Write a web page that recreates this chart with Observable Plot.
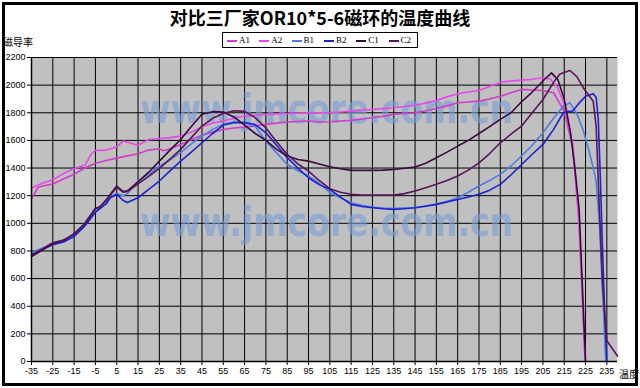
<!DOCTYPE html>
<html><head><meta charset="utf-8">
<script src="https://cdn.jsdelivr.net/npm/d3@7"></script>
<script src="https://cdn.jsdelivr.net/npm/@observablehq/plot@0.6"></script>
<style>
body{margin:0;background:#fff;}
#wrap{position:relative;width:640px;height:388px;overflow:hidden;background:#fff;}
#chart{position:absolute;left:0;top:0;}
#border{position:absolute;left:2px;top:2px;width:630px;height:378px;border:3px solid #000;pointer-events:none;}
#title{position:absolute;left:0;width:640px;top:7px;text-align:center;font-weight:bold;font-size:18px;font-family:"Noto Sans CJK SC","Liberation Sans",sans-serif;line-height:20px;}
#ylab{position:absolute;left:3px;top:36px;font-size:10px;font-family:"Noto Sans CJK SC",sans-serif;line-height:12px;}
#xlab{position:absolute;left:619px;top:368px;font-size:10px;font-family:"Noto Sans CJK SC",sans-serif;line-height:12px;}
#legend{position:absolute;left:222px;top:32px;width:194px;height:14px;border:1px solid #000;background:#fff;}
.li{position:absolute;top:0;height:14px;font-family:"Liberation Serif",serif;font-size:9px;line-height:14px;}
.li i{position:absolute;left:0;top:7px;width:10px;height:2px;}
.li span{position:absolute;left:12px;top:0;}
</style></head>
<body>
<div id="wrap">
  <div id="chart"></div>
  <div id="title">对比三厂家OR10*5-6磁环的温度曲线</div>
  <div id="ylab">磁导率</div>
  <div id="xlab">温度</div>
  <div id="legend"></div>
  <div id="border"></div>
</div>
<script>
const seriesNames = ["A1","A2","B1","B2","C1","C2"];
const seriesColors = ["#d03ccc","#e848e8","#4c7ee0","#1c22d0","#3c0840","#5a1458"];
const xTicks = [-35,-25,-15,-5,5,15,25,35,45,55,65,75,85,95,105,115,125,135,145,155,165,175,185,195,205,215,225,235];
const yTicks = [0,200,400,600,800,1000,1200,1400,1600,1800,2000,2200];
const watermarkText = "www.jmcore.com.cn";

const a1T = [-35,-32,-30,-25,-20,-15,-10,-5,0,5,10,15,20,25,27,30,35,40,45,50,55,60,65,70,75,80,85,90,95,100,105,110,115,120,125,130,135,140,145,150,155,160,165,170,175,180,185,190,195,200,205,210,215,219,222,224.8];
const a1V = [1175,1260,1270,1285,1320,1355,1400,1435,1455,1472,1488,1504,1530,1540,1525,1540,1571,1605,1638,1660,1679,1690,1696,1705,1716,1725,1733,1737,1740,1733,1735,1740,1745,1755,1764,1775,1788,1795,1800,1815,1831,1850,1872,1878,1884,1900,1920,1945,1969,1965,1961,1945,1812,1547,1000,0];

const a2T = [-35,-30,-25,-20,-15,-10,-7,-5,0,5,8,10,15,20,25,30,35,40,45,50,55,60,65,70,75,80,85,90,95,100,105,110,115,120,125,130,135,140,145,150,155,160,165,170,175,180,185,190,195,200,205,208.5,212,215,219,221.6,223,224.8];
const a2V = [1255,1290,1315,1360,1397,1420,1500,1527,1530,1552,1595,1587,1565,1606,1614,1620,1631,1660,1700,1725,1740,1760,1776,1782,1788,1792,1795,1798,1800,1800,1802,1806,1812,1818,1824,1830,1836,1845,1855,1870,1889,1915,1937,1950,1961,1990,2020,2030,2036,2042,2053,2045,1980,1860,1571,1089,655,0];

const b1T = [-35,-30,-25,-20,-15,-10,-5,-3,0,2,5,8,10,15,20,25,30,35,40,45,50,55,60,65,70,75,80,85,90,95,100,105,110,115,120,125,130,135,140,145,150,155,160,165,170,175,180,185,190,195,200,205,210,214.6,217.7,221,224,226.5,228.6,230,231.5,233,234.5];
const b1V = [790,820,850,870,915,985,1090,1110,1150,1190,1215,1200,1215,1306,1354,1414,1460,1511,1575,1631,1680,1716,1735,1730,1700,1595,1510,1426,1380,1342,1290,1222,1185,1149,1130,1118,1110,1108,1110,1113,1122,1137,1158,1185,1225,1270,1310,1354,1415,1487,1565,1655,1760,1848,1872,1790,1667,1530,1402,1300,1000,500,0];

const b2T = [-35,-30,-25,-20,-15,-10,-5,-3,0,2,5,8,10,15,20,25,30,35,40,45,50,55,60,65,70,75,80,85,90,95,100,105,110,115,120,125,130,135,140,145,150,155,160,165,170,175,180,185,190,195,200,205,210,214.6,217,219,222,225,228.6,230,231,232,233,234,235];
const b2V = [775,810,845,865,905,980,1080,1105,1140,1185,1210,1165,1150,1185,1245,1306,1380,1450,1515,1583,1650,1711,1728,1730,1715,1655,1565,1475,1400,1330,1280,1246,1190,1137,1122,1113,1105,1101,1105,1113,1125,1137,1155,1173,1190,1210,1240,1282,1350,1426,1500,1571,1680,1800,1810,1812,1870,1920,1937,1910,1750,1300,800,350,0];

const c1T = [-35,-30,-25,-20,-15,-10,-5,-3,0,2,5,8,10,15,20,25,30,35,40,45,50,55,60,65,70,75,80,85,90,95,100,105,110,115,120,125,130,135,140,145,150,155,160,165,170,175,180,185,190,195,200,205,209,212,215,218,220,222,225];
const c1V = [760,805,855,875,925,995,1105,1120,1165,1210,1270,1230,1235,1300,1370,1450,1530,1607,1700,1790,1808,1805,1770,1710,1650,1600,1535,1487,1462,1450,1430,1410,1395,1383,1383,1383,1385,1390,1398,1407,1435,1475,1515,1559,1600,1650,1700,1752,1800,1880,1950,2030,2089,2040,1900,1650,1400,1100,0];

const c2T = [-35,-30,-25,-20,-15,-10,-5,-3,0,2,5,8,10,15,20,25,30,35,40,45,50,55,60,65,70,75,80,85,90,95,100,105,110,115,120,125,130,135,140,145,150,155,160,165,170,175,180,185,190,195,200,205,210,213,217.7,221,224,228.6,230,231.5,233,235,240];
const c2V = [770,815,860,880,920,1000,1110,1115,1170,1205,1260,1225,1230,1285,1340,1398,1465,1535,1620,1704,1760,1795,1815,1810,1765,1690,1590,1499,1430,1378,1310,1250,1225,1210,1205,1205,1205,1205,1215,1234,1258,1282,1310,1342,1385,1438,1505,1583,1645,1704,1800,1896,2020,2080,2106,2060,1980,1884,1700,1100,550,150,40];

const seriesT = [a1T,a2T,b1T,b2T,c1T,c2T];
const seriesV = [a1V,a2V,b1V,b2V,c1V,c2V];
const rows = [];
seriesNames.forEach((s,i)=>seriesT[i].forEach((t,j)=>rows.push({s,t,v:seriesV[i][j]})));

const chart = Plot.plot({
  width:640, height:388,
  marginLeft:31, marginRight:23, marginTop:57, marginBottom:27,
  x:{domain:[-35,240]},
  y:{domain:[0,2200]},
  color:{domain:seriesNames, range:seriesColors},
  style:{fontFamily:"Liberation Sans, sans-serif", fontSize:"9px", background:"transparent", color:"#000"},
  marks:[
    Plot.frame({fill:"#c0c0c0", stroke:"none"}),
    Plot.ruleX(xTicks, {stroke:"#000", strokeWidth:1, strokeOpacity:1}),
    Plot.ruleY(yTicks, {stroke:"#000", strokeWidth:1, strokeOpacity:1}),
    Plot.text([watermarkText], {frameAnchor:"top", dx:2, dy:37, fill:"#7a9fd6", fillOpacity:0.65, fontSize:40, fontWeight:"bold", fontFamily:"DejaVu Sans"}),
    Plot.text([watermarkText], {frameAnchor:"top", dx:2, dy:150, fill:"#7a9fd6", fillOpacity:0.65, fontSize:40, fontWeight:"bold", fontFamily:"DejaVu Sans"}),
    Plot.line(rows, {x:"t", y:"v", z:"s", stroke:"s", strokeWidth:1.6}),
    Plot.axisX({ticks:xTicks, tickSize:4, tickPadding:2, tickFormat:d=>String(d), label:null}),
    Plot.axisY({ticks:yTicks, tickSize:4, tickPadding:2, tickFormat:d=>String(d), label:null}),
    Plot.ruleY([0], {stroke:"#000", strokeWidth:1.5}),
    Plot.ruleX([-35], {stroke:"#000", strokeWidth:1.5})
  ]
});
d3.select(chart).selectAll("text").filter(function(){return this.textContent===watermarkText;})
  .attr("textLength",373).attr("lengthAdjust","spacingAndGlyphs");
document.getElementById("chart").appendChild(chart);

const lg = document.getElementById("legend");
seriesNames.forEach((s,i)=>{
  const d = document.createElement("div");
  d.className="li";
  d.style.left = (4 + i*32.3) + "px";
  d.innerHTML = `<i style="background:${seriesColors[i]}"></i><span>${s}</span>`;
  lg.appendChild(d);
});
</script>
</body></html>
